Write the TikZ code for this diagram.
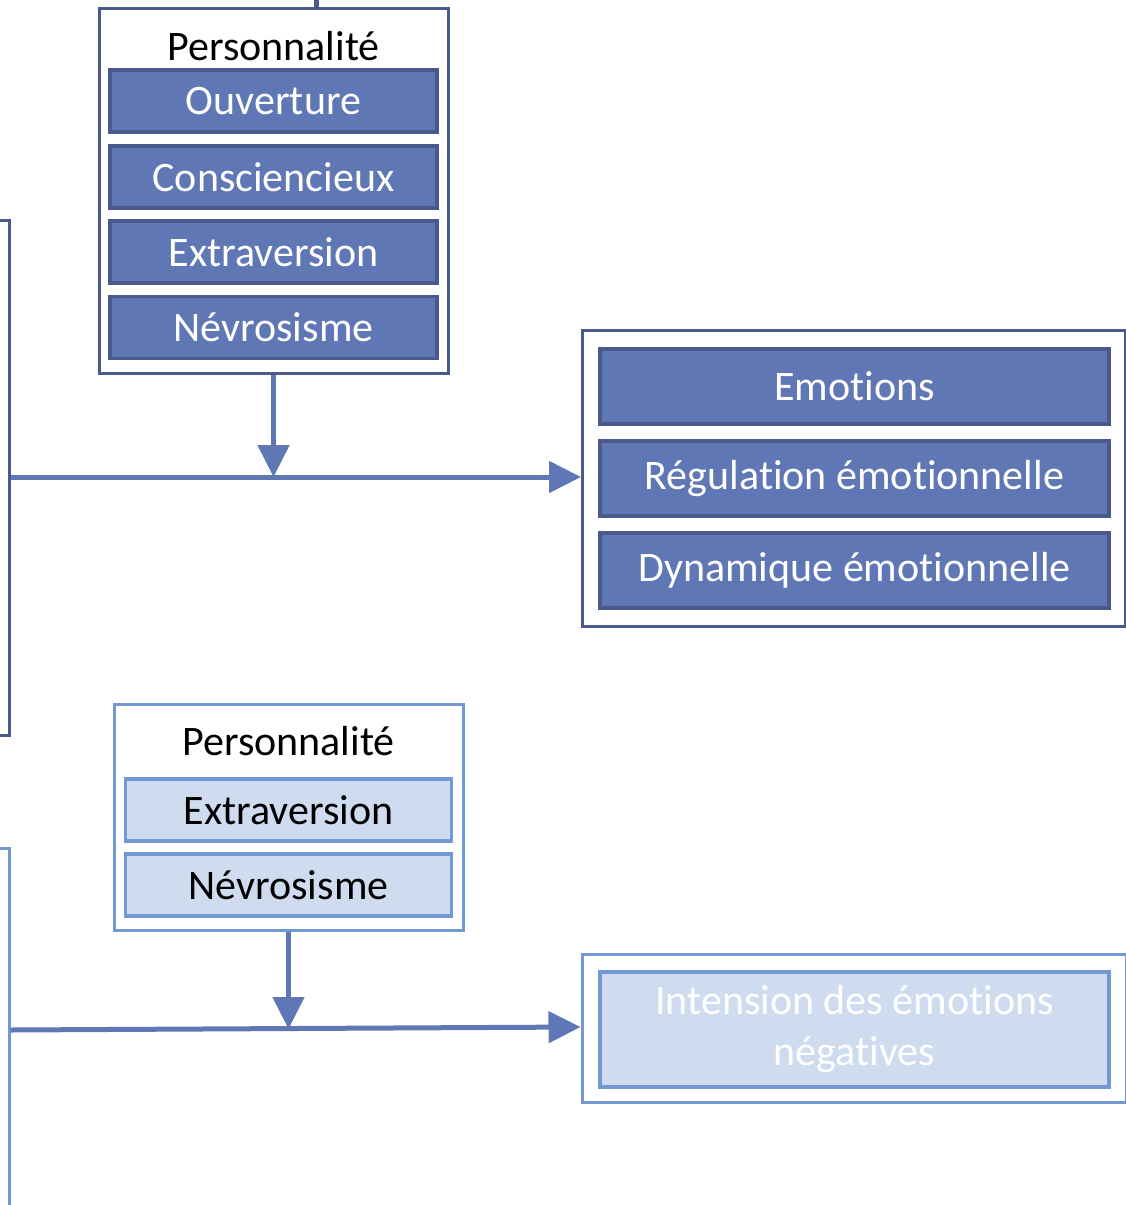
\documentclass[tikz,border=0pt]{standalone}
\usepackage{fontspec}
\setmainfont{Carlito}[RawFeature=-liga, RawFeature=-clig, RawFeature=-calt, RawFeature=-dlig]
\usetikzlibrary{arrows.meta}
\definecolor{navy}{HTML}{4A5A8C}
\definecolor{midblue}{HTML}{6077B5}
\definecolor{lightborder}{HTML}{7399D4}
\definecolor{lightfill}{HTML}{CFDCEF}
\newcommand{\nolig}{\kern0pt}
\tikzset{
  outerdark/.style={draw=navy, line width=3pt, fill=white, rectangle, inner sep=0pt},
  innerdark/.style={draw=navy, line width=3.5pt, fill=midblue, rectangle, inner sep=0pt, text=white, font=\fontsize{42}{50}\selectfont},
  outerlight/.style={draw=lightborder, line width=3pt, fill=white, rectangle, inner sep=0pt},
  innerlight/.style={draw=lightborder, line width=3.5pt, fill=lightfill, rectangle, inner sep=0pt, text=black, font=\fontsize{42}{50}\selectfont},
  title/.style={font=\fontsize{42}{50}\selectfont, text=black, inner sep=0pt},
  conn/.style={draw=midblue, line width=5pt},
  arr/.style={conn, -{Triangle[width=31pt,length=32pt]}},
}
\begin{document}
\begin{tikzpicture}[x=1pt,y=-1pt]
\useasboundingbox (0,0) rectangle (1126,1205);
\clip (0,0) rectangle (1126,1205);
% left partial boxes
\node[outerdark, minimum width=209pt, minimum height=515pt] (leftA) at (-95.5,477.5) {};
\node[outerlight, minimum width=209pt, minimum height=500pt] (leftB) at (-95.5,1098) {};
% top box
\coordinate (topin) at (316,-20);
\node[outerdark, minimum width=349pt, minimum height=365pt] (pers1) at (273.5,190.5) {};
\draw[navy, line width=5pt] (topin) -- (pers1.north -| topin);
\node[title] (pt1) at (273.5,46) {Personnalité};
\node[innerdark, minimum width=327pt, minimum height=62pt] (ouv) at (273.5,101) {Ouverture};
\node[innerdark, minimum width=327pt, minimum height=62pt] (con) at (273.5,177) {Consciencieux};
\node[innerdark, minimum width=327pt, minimum height=62pt] (ext1) at (273.5,252) {Extraversion};
\node[innerdark, minimum width=327pt, minimum height=62pt] (nev1) at (273.5,327.5) {Névrosisme};
% right top box
\node[outerdark, minimum width=543pt, minimum height=296pt] (emobox) at (854,478) {};
\node[innerdark, minimum width=509pt, minimum height=75pt] (emo) at (854.5,386.5) {Emot\nolig ions};
\node[innerdark, minimum width=509pt, minimum height=75pt] (reg) at (854.5,478.5) {Régulat\nolig ion émot\nolig ionnelle};
\node[innerdark, minimum width=509pt, minimum height=75pt] (dyn) at (854.5,570.5) {Dynamique émot\nolig ionnelle};
% top connectors
\coordinate (j1) at (273.5,477);
\draw[arr] (pers1.south) -- (j1);
\draw[arr] (leftA.east |- j1) -- (emobox.west |- j1);
% lower box
\node[outerlight, minimum width=349pt, minimum height=226pt] (pers2) at (288.5,817) {};
\node[title] (pt2) at (288.5,741) {Personnalité};
\node[innerlight, minimum width=326pt, minimum height=62pt] (ext2) at (288.5,810) {Extraversion};
\node[innerlight, minimum width=326pt, minimum height=62pt] (nev2) at (288.5,885) {Névrosisme};
% lower right box
\node[outerlight, minimum width=544pt, minimum height=148pt] (negbox) at (854,1028) {};
\node[innerlight, minimum width=509pt, minimum height=115pt, text=white, align=center] (neg) at (854.5,1029.5) {Intension des émot\nolig ions\\[1pt]négat\nolig ives};
% lower connectors
\coordinate (j2) at (288.5,1029);
\draw[arr] (pers2.south) -- (j2);
\draw[arr] (leftB.east |- 0,1030) -- (negbox.west |- 0,1027);
\end{tikzpicture}
\end{document}
